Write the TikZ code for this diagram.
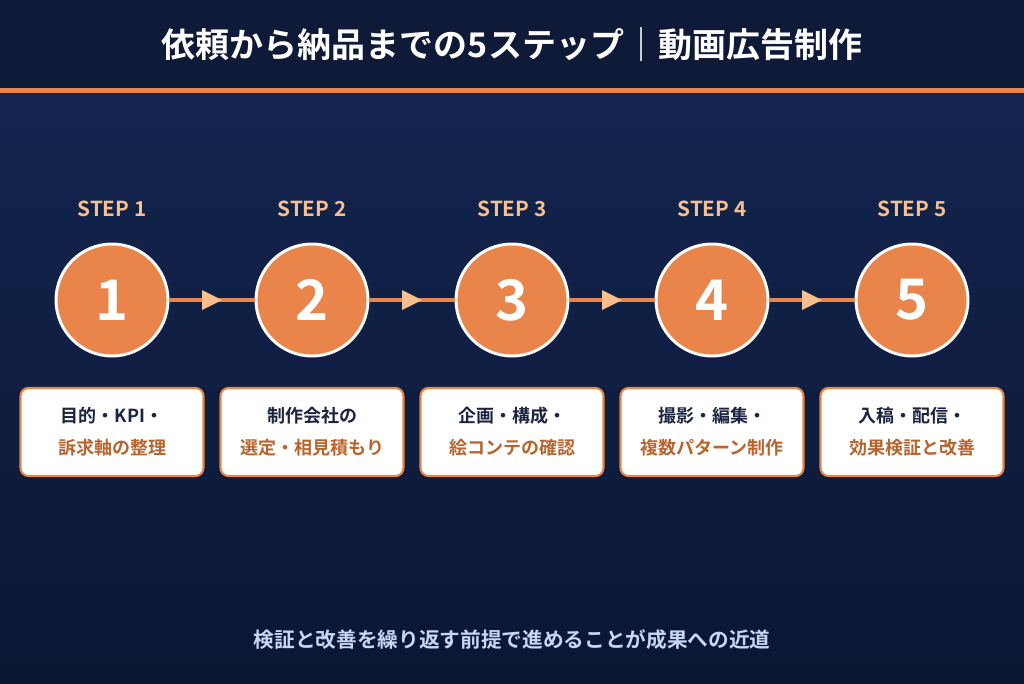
\documentclass[tikz,border=0pt]{standalone}
\usepackage{fontspec}
\setmainfont{Noto Sans CJK JP}[BoldFont={* Bold}]
\usetikzlibrary{arrows.meta}
\definecolor{hdr}{HTML}{0E1A38}
\definecolor{bgtop}{HTML}{13254F}
\definecolor{bgbot}{HTML}{0B1632}
\definecolor{org}{HTML}{E9854A}
\definecolor{lorg}{HTML}{F7BE8E}
\definecolor{navy}{HTML}{1B2440}
\definecolor{brn}{HTML}{B8642C}
\definecolor{foot}{HTML}{C8D6F2}
\begin{document}
\begin{tikzpicture}[x=0.75pt,y=-0.75pt,
  circ/.style={circle,fill=org,draw=white,line width=2.2pt,minimum size=112*0.75pt,inner sep=0pt,text=white,font=\bfseries\fontsize{42}{42}\selectfont},
  steplbl/.style={text=lorg,font=\bfseries\fontsize{15.5}{15.5}\selectfont},
  box/.style={rectangle,rounded corners=8*0.75pt,fill=white,draw=org,line width=1.6pt,minimum width=183*0.75pt,minimum height=88*0.75pt,align=center,font=\bfseries\fontsize{13.5}{24}\selectfont,text=navy},
  conn/.style={draw=org,line width=3pt},
  head/.style={fill=lorg}]
\useasboundingbox (0,0) rectangle (1024,683);
\shade[top color=bgtop,bottom color=bgbot] (0,93) rectangle (1024,683);
\fill[hdr] (0,0) rectangle (1024,88);
\fill[org] (0,88) rectangle (1024,93);
\node[text=white,font=\bfseries\fontsize{25.5}{25.5}\selectfont] (title) at (512,45) {依頼から納品までの5ステップ｜動画広告制作};
\foreach \i/\a/\b in {1/{目的・KPI・}/{訴求軸の整理},2/{制作会社の}/{選定・相見積もり},3/{企画・構成・}/{絵コンテの確認},4/{撮影・編集・}/{複数パターン制作},5/{入稿・配信・}/{効果検証と改善}}{
  \pgfmathsetmacro\xx{112+200*(\i-1)}
  \node[steplbl] (s\i) at (\xx,209) {STEP \i};
  \node[box] (b\i) at (\xx,432) {\a\\\textcolor{brn}{\b}};
  \node[circ] (c\i) at (\xx,300) {\i};
}
\foreach \i in {1,...,4}{
  \pgfmathsetmacro\xx{112+200*(\i-1)}
  \coordinate (m\i) at (\xx+100,300);
}
\foreach \i/\j in {1/2,2/3,3/4,4/5}{
  \draw[conn] (c\i) -- (c\j);
  \fill[head] ([xshift=-10*0.75pt,yshift=-10*0.75pt]m\i) -- ([xshift=10*0.75pt]m\i) -- ([xshift=-10*0.75pt,yshift=10*0.75pt]m\i) -- cycle;
}
\node[text=foot,font=\bfseries\fontsize{15.5}{15.5}\selectfont] (ft) at (512,640) {検証と改善を繰り返す前提で進めることが成果への近道};
\end{tikzpicture}
\end{document}
